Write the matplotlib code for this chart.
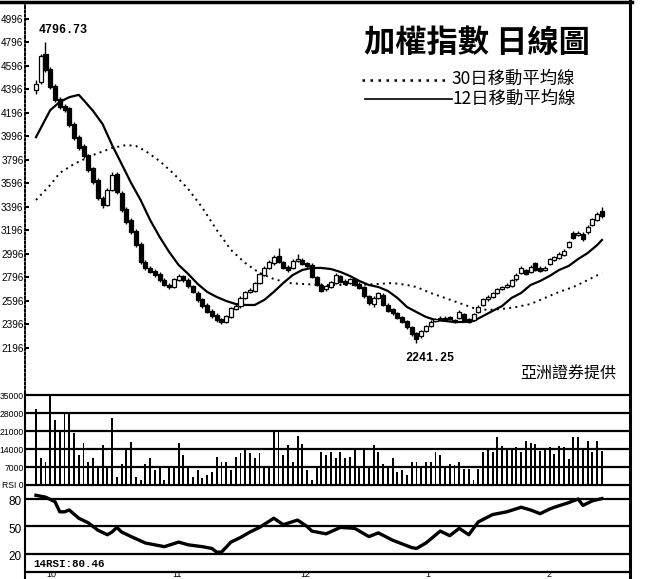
import matplotlib
matplotlib.use('Agg')
import matplotlib.pyplot as plt
from matplotlib.lines import Line2D
import numpy as np

# candles (index 0 = first trading day shown)
opens = [4392, 4460, 4698, 4570, 4426, 4315, 4255, 4238, 4102, 3992,
         3915, 3838, 3728, 3626, 3473, 3413, 3541, 3677, 3515, 3379,
         3285, 3192, 3081, 2928, 2877, 2851, 2826, 2774, 2732, 2715,
         2774, 2809, 2774, 2724, 2664, 2613, 2562, 2511, 2477, 2443,
         2417, 2460, 2528, 2553, 2622, 2673, 2681, 2749, 2817, 2877,
         2919, 2979, 2928, 2885, 2877, 2936, 2945, 2919, 2902, 2800,
         2732, 2698, 2715, 2749, 2809, 2766, 2749, 2783, 2741, 2715,
         2639, 2570, 2622, 2647, 2562, 2528, 2494, 2460, 2426, 2375,
         2324, 2298, 2341, 2383, 2426, 2443, 2451, 2460, 2434, 2451,
         2485, 2443, 2434, 2502, 2562, 2613, 2630, 2664, 2698, 2715,
         2724, 2783, 2834, 2860, 2843, 2919, 2877, 2860, 2911, 2945,
         2962, 2988, 3056, 3175, 3158, 3166, 3183, 3243, 3285, 3362]
closes = [4443, 4681, 4562, 4417, 4306, 4247, 4221, 4094, 3983, 3898,
          3830, 3711, 3609, 3473, 3413, 3541, 3668, 3524, 3370, 3268,
          3183, 3072, 2928, 2877, 2843, 2817, 2774, 2732, 2715, 2783,
          2809, 2774, 2724, 2673, 2605, 2553, 2502, 2468, 2434, 2417,
          2468, 2536, 2553, 2622, 2673, 2690, 2749, 2826, 2877, 2928,
          2970, 2928, 2877, 2860, 2936, 2953, 2911, 2894, 2800, 2732,
          2681, 2724, 2758, 2817, 2758, 2741, 2783, 2732, 2707, 2639,
          2579, 2622, 2664, 2562, 2511, 2494, 2451, 2417, 2375, 2315,
          2273, 2341, 2383, 2417, 2443, 2451, 2434, 2443, 2417, 2502,
          2426, 2417, 2485, 2545, 2613, 2630, 2664, 2698, 2715, 2732,
          2774, 2817, 2877, 2826, 2885, 2860, 2851, 2877, 2953, 2970,
          2996, 3021, 3098, 3132, 3175, 3124, 3226, 3294, 3336, 3319]
highs = [4477, 4698, 4796.73, 4590, 4440, 4330, 4270, 4250, 4115, 4005,
         3930, 3850, 3740, 3640, 3490, 3555, 3690, 3695, 3530, 3395,
         3300, 3205, 3095, 2945, 2890, 2865, 2840, 2790, 2745, 2795,
         2825, 2820, 2790, 2735, 2680, 2625, 2575, 2525, 2490, 2455,
         2480, 2545, 2570, 2635, 2685, 2705, 2760, 2840, 2890, 2945,
         2985, 3047, 2940, 2900, 2950, 2996, 2960, 2930, 2915, 2810,
         2745, 2735, 2770, 2830, 2820, 2780, 2795, 2795, 2755, 2725,
         2650, 2635, 2675, 2660, 2575, 2540, 2505, 2470, 2435, 2385,
         2335, 2350, 2395, 2430, 2455, 2465, 2465, 2470, 2445, 2515,
         2495, 2455, 2495, 2560, 2625, 2645, 2675, 2710, 2725, 2745,
         2785, 2830, 2890, 2870, 2900, 2930, 2890, 2890, 2965, 2980,
         3010, 3035, 3110, 3190, 3190, 3180, 3240, 3305, 3350, 3396]
lows = [4358, 4443, 4545, 4400, 4290, 4230, 4205, 4080, 3965, 3880,
        3815, 3695, 3590, 3455, 3385, 3400, 3530, 3505, 3355, 3250,
        3170, 3055, 2910, 2860, 2830, 2800, 2760, 2720, 2700, 2705,
        2765, 2760, 2710, 2660, 2590, 2540, 2490, 2455, 2420, 2400,
        2405, 2450, 2515, 2540, 2610, 2660, 2670, 2740, 2805, 2865,
        2905, 2915, 2865, 2845, 2865, 2925, 2900, 2880, 2790, 2720,
        2670, 2685, 2705, 2740, 2745, 2730, 2740, 2720, 2695, 2625,
        2565, 2545, 2610, 2550, 2500, 2480, 2440, 2405, 2360, 2300,
        2241.25, 2285, 2330, 2375, 2415, 2430, 2425, 2430, 2405, 2440,
        2415, 2405, 2425, 2490, 2550, 2600, 2620, 2655, 2690, 2705,
        2715, 2770, 2825, 2815, 2835, 2850, 2840, 2850, 2900, 2935,
        2950, 2980, 3045, 3120, 3145, 3110, 3170, 3230, 3275, 3305]

volumes = [29500, 10500, 9000, 35000, 25300, 20600, 28000, 28000, 20200, 11700,
           16300, 9000, 10500, 6600, 15600, 6600, 26000, 3100, 8000, 14400,
           16700, 3100, 1900, 8000, 10500, 5800, 6500, 1900, 6600, 7000,
           16300, 11700, 7000, 3100, 6000, 2700, 4000, 5000, 10900, 9000,
           9000, 6000, 11000, 12500, 14000, 12500, 10500, 12500, 6500, 6500,
           21500, 21500, 11500, 15500, 9000, 19000, 16000, 6000, 2000, 7000,
           13000, 11500, 13000, 10500, 13000, 10500, 11000, 14000, 6500, 14000,
           6500, 15500, 13000, 8000, 6500, 10500, 5000, 6000, 4000, 9000,
           9000, 7000, 9000, 9000, 13000, 11500, 7000, 8300, 7600, 9000,
           6400, 6400, 1900, 6400, 12700, 14000, 13000, 18500, 15300, 14000,
           14000, 14600, 13000, 17200, 16500, 15900, 13300, 14000, 14600, 12000,
           15300, 14600, 10200, 18500, 18500, 14000, 17200, 13000, 17200, 13300]

# moving averages
ma12_x = [0, 3, 5, 7, 9, 10, 12, 14, 16, 18, 20, 22, 24, 26, 28, 30, 32, 34, 36, 38,
          40, 42, 44, 46, 48, 50, 52, 54, 56, 58, 60, 62, 64, 66, 68, 70, 72, 74, 76, 78,
          80, 82, 84, 86, 88, 90, 92, 94, 96, 98, 100, 102, 104, 106, 108, 110, 112, 114,
          116, 118, 119]
ma12 = [3990, 4220, 4290, 4330, 4350, 4306, 4213, 4102, 3923, 3762, 3600, 3455, 3285,
        3141, 3013, 2902, 2826, 2741, 2673, 2630, 2596, 2570, 2562, 2562, 2605, 2673,
        2749, 2817, 2860, 2877, 2877, 2868, 2843, 2809, 2766, 2732, 2715, 2681, 2622,
        2545, 2502, 2460, 2434, 2426, 2417, 2417, 2426, 2468, 2511, 2553, 2622, 2664,
        2732, 2766, 2809, 2860, 2894, 2953, 3004, 3072, 3115]
ma30_x = [0, 3, 5, 8, 12, 16, 19, 21, 23, 26, 29, 32, 35, 38, 41, 44, 47, 50, 53, 56,
          60, 64, 68, 72, 75, 78, 80, 83, 86, 89, 92, 95, 98, 101, 104, 107, 110, 113, 116, 119]
ma30 = [3455, 3583, 3685, 3762, 3838, 3898, 3923, 3915, 3873, 3787, 3677, 3549, 3388,
        3200, 3030, 2919, 2834, 2783, 2749, 2741, 2732, 2732, 2732, 2741, 2749, 2732,
        2715, 2664, 2622, 2579, 2536, 2519, 2528, 2545, 2570, 2622, 2673, 2715, 2774, 2834]

rsi_x = [0, 1, 2, 4, 5, 6, 7, 9, 11, 13, 15, 16, 17, 18, 20, 23, 25, 27, 30, 32,
         35, 37, 38, 39, 41, 43, 45, 47, 50, 52, 55, 57, 58, 61, 64, 67, 70, 72, 75, 79,
         80, 82, 85, 87, 89, 91, 93, 96, 99, 102, 104, 106, 108, 109, 112, 114, 115, 117, 119]
rsi = [84, 83, 82, 77, 66, 66, 68, 59, 54, 46, 41, 44, 49, 44, 39, 32, 30, 28, 33, 30,
       28, 26, 22, 22, 33, 38, 44, 49, 59, 52, 57, 50, 45, 42, 49, 48, 39, 43, 35, 27,
       26, 32, 45, 40, 48, 41, 55, 63, 66, 71, 68, 64, 69, 71, 76, 80, 73, 78, 80.46]

price_ticks = list(range(2196, 5000, 200))
vol_ticks = [0, 7000, 14000, 21000, 28000, 35000]
vol_labels = ['RSI 0', '7000', '14000', '21000', '28000', '35000']
month_pos = [3.2, 29.6, 56.6, 82.4, 107.9]
month_labels = ['10', '11', '12', '1', '2']

W, H = 645, 579
cjk = ['Noto Sans CJK TC', 'DejaVu Sans']
plt.rcParams['font.family'] = ['Liberation Sans', 'DejaVu Sans']


def box(x0, y0, x1, y1):
    return [x0 / W, 1 - y1 / H, (x1 - x0) / W, (y1 - y0) / H]


fig = plt.figure(figsize=(W / 100, H / 100), dpi=100)
fig.patch.set_facecolor('white')

ax_p = fig.add_axes(box(25, 2, 630, 393))
ax_v = fig.add_axes(box(25, 393, 630, 490), sharex=ax_p)
ax_r = fig.add_axes(box(25, 490, 630, 579), sharex=ax_p)

x = np.arange(len(closes))
o = np.array(opens, dtype=float)
c = np.array(closes, dtype=float)
up = c >= o

# price panel
ax_p.plot(ma30_x, ma30, color='k', lw=1.4, ls=(0, (1, 2.2)))
ax_p.plot(ma12_x, ma12, color='k', lw=1.6)
ax_p.vlines(x, lows, highs, color='k', lw=1)
ax_p.bar(x, np.abs(c - o), bottom=np.minimum(o, c), width=0.85,
         color=np.where(up, 'white', 'black'), edgecolor='k', lw=0.9, zorder=3)
ax_p.set_xlim(-2.31, 124.9)
ax_p.set_ylim(1813, 5140)
ax_p.set_yticks(price_ticks)
ax_p.set_yticklabels([str(t) for t in price_ticks])
ax_p.tick_params(axis='y', direction='in', length=3, width=1.5, labelsize=7.2, pad=1)
ax_p.tick_params(axis='x', bottom=False, labelbottom=False)
for s in ['top', 'right', 'bottom']:
    ax_p.spines[s].set_visible(False)
ax_p.spines['left'].set_linestyle((0, (1, 1.2)))
ax_p.spines['left'].set_linewidth(1.4)

ax_p.text(0.6, 4905, '4796.73', family='Liberation Mono', weight='bold',
          fontsize=8.5, ha='left', va='center')
ax_p.text(77.6, 2111, '2241.25', family='Liberation Mono', weight='bold',
          fontsize=8.5, ha='left', va='center')

# volume panel
ax_v.bar(x, volumes, width=0.4, color='k')
for t in vol_ticks:
    ax_v.axhline(t, color='k', lw=1.6)
ax_v.set_ylim(-1945, 35788)
ax_v.set_yticks(vol_ticks)
ax_v.set_yticklabels(vol_labels)
ax_v.tick_params(axis='y', length=0, labelsize=6.2, pad=1)
ax_v.tick_params(axis='x', bottom=False, labelbottom=False)
for s in ['top', 'right', 'bottom']:
    ax_v.spines[s].set_visible(False)
ax_v.spines['left'].set_linewidth(1.5)

# RSI panel
ax_r.plot(rsi_x, rsi, color='k', lw=2.4, solid_joinstyle='round')
for t in [80, 50, 20, 0]:
    ax_r.axhline(t, color='k', lw=1.6)
ax_r.set_ylim(-7.27, 89.8)
ax_r.set_yticks([])
ax_r.tick_params(axis='x', bottom=False, labelbottom=False)
for s in ['top', 'right', 'bottom']:
    ax_r.spines[s].set_visible(False)
ax_r.spines['left'].set_linewidth(1.5)
for t in [80, 50, 20]:
    ax_r.text(-0.005, t - 3.5, str(t), transform=ax_r.get_yaxis_transform(),
              ha='right', va='center', fontsize=8.5)
ax_r.text(-0.63, 9.1, '14RSI:80.46', family='Liberation Mono', weight='bold',
          fontsize=7.8, ha='left', va='center')
for pos, lab in zip(month_pos, month_labels):
    ax_r.text(pos, -7.2, lab, ha='center', va='bottom', fontsize=6.5)

# title and legend
fig.text(364 / W, 1 - 43 / H, '加權指數 日線圖', family=cjk, weight='bold',
         fontsize=22.5, ha='left', va='center')
fig.add_artist(Line2D([362 / W, 450 / W], [1 - 80 / H, 1 - 80 / H], color='k',
                      lw=1.8, ls=(0, (1, 2.2))))
fig.add_artist(Line2D([365 / W, 452 / W], [1 - 99 / H, 1 - 99 / H], color='k', lw=1.2))
fig.text(451 / W, 1 - 78.5 / H, '30日移動平均線', family=cjk, fontsize=12.5,
         ha='left', va='center')
fig.text(453 / W, 1 - 98.5 / H, '12日移動平均線', family=cjk, fontsize=12.5,
         ha='left', va='center')
fig.text(520 / W, 1 - 374 / H, '亞洲證券提供', family=cjk, fontsize=11.5,
         ha='left', va='center')

# outer border lines
fig.add_artist(Line2D([0, 632 / W], [1 - 2 / H, 1 - 2 / H], color='k', lw=2.5))
fig.add_artist(Line2D([630 / W, 630 / W], [0, 1], color='k', lw=2.2))

fig.savefig('out.png', dpi=100)
